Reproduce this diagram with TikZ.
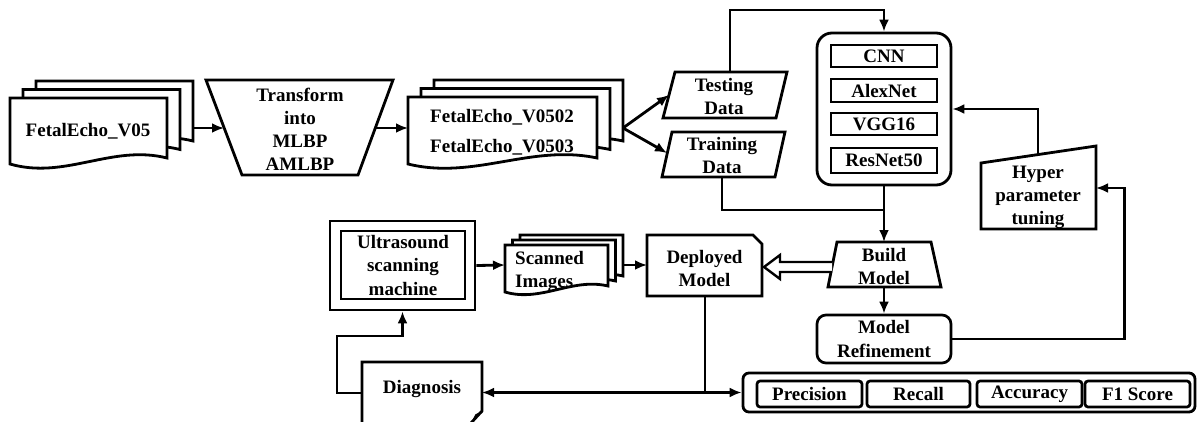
\documentclass[tikz,border=0pt]{standalone}
\usepackage{fontspec}
\setmainfont{Liberation Serif}
\usetikzlibrary{arrows.meta}

\newcommand\lbl{\fontsize{19}{23}\selectfont\bfseries}

\tikzset{
  outline/.style={line width=2.8pt, line join=miter, fill=white},
  box/.style={draw, line width=2.7pt, inner sep=0pt, align=center, font=\lbl, fill=white},
  txt/.style={font=\lbl, align=center, inner sep=0pt},
  link/.style={line width=2.8pt},
  arr/.style={line width=2.8pt, -{Latex[length=12pt,width=10pt]}},
  hollow/.style={line width=2.4pt, line join=miter, fill=white},
}

% a document sheet with a wavy lower edge: left, top, width, height
\newcommand\docsheet[4]{%
  \draw[outline] (#1,#2) -- ({#1+#3},#2) -- ({#1+#3},{#2+#4-4})
    .. controls ({#1+0.65*#3},{#2+0.72*#4}) and ({#1+0.35*#3},{#2+1.28*#4})
    .. (#1,{#2+#4+2}) -- cycle;}

\begin{document}
\begin{tikzpicture}[x=1pt,y=-1pt]
\useasboundingbox (0,0) rectangle (1197,421);
\clip (0,0) rectangle (1197,421);
\fill[white] (0,0) rectangle (1197,421);

% ---------- input data set ----------
\docsheet{36}{81}{157}{64}
\docsheet{23}{89.5}{157}{64}
\docsheet{10}{98}{157}{64}
\node[txt] (v05) at (88,131) {FetalEcho\_V05};
\coordinate (v05out) at (193,128);

% ---------- transformation ----------
\draw[outline] (206,80) -- (393,80) -- (358,175) -- (242,175) -- cycle;
\node[txt] (transform) at (300,129) {Transform\\into\\MLBP\\AMLBP};
\coordinate (trIn) at (224,128);
\coordinate (trOut) at (375,128);

% ---------- transformed data sets ----------
\docsheet{434}{80}{189}{65}
\docsheet{421}{88.5}{189}{65}
\docsheet{408}{97}{189}{65}
\node[txt, font=\fontsize{19}{30}\selectfont\bfseries] (v0502) at (502,132)
  {FetalEcho\_V0502\\FetalEcho\_V0503};
\coordinate (v0502in) at (408,128);
\coordinate (v0502out) at (623,128);

% ---------- split ----------
\draw[outline] (675,72) -- (787,72) -- (776,118) -- (663,118) -- cycle;
\node[txt] (testing) at (724,96.5) {Testing\\Data};
\draw[outline] (672,132) -- (785,132) -- (775,177) -- (662,177) -- cycle;
\node[txt] (training) at (722,155) {Training\\Data};
\coordinate (testIn) at (669,95);
\coordinate (trainIn) at (667,153);
\coordinate (testTop) at (730,72);
\coordinate (trainBot) at (722,177);

% ---------- models ----------
\node[draw, line width=2.8pt, rounded corners=15pt, minimum width=134pt,
      minimum height=152pt, inner sep=0pt] (models) at (884,109) {};
\node[box, minimum width=106pt, minimum height=22pt] (cnn) at (884,56) {CNN};
\node[box, minimum width=106pt, minimum height=23pt] (alex) at (884,90.5) {AlexNet};
\node[box, minimum width=106pt, minimum height=22pt] (vgg) at (884,124) {VGG16};
\node[box, minimum width=106pt, minimum height=25pt] (resnet) at (884,160.5) {ResNet50};

% ---------- hyper parameter tuning ----------
\draw[outline] (981,163) -- (1096,146) -- (1096,229) -- (981,229) -- cycle;
\node[txt] (hyper) at (1038,197) {Hyper\\parameter\\tuning};
\coordinate (hyperTop) at (1038,154.6);
\coordinate (hyperRight) at (1096,188);

% ---------- build / refine ----------
\draw[outline] (837,242) -- (931,242) -- (941,287) -- (828,287) -- cycle;
\node[txt] (build) at (884,266.5) {Build\\Model};
\coordinate (buildTop) at (884,242);
\coordinate (buildBot) at (884,287);
\coordinate (buildLeft) at (832,267);
\coordinate (join) at (884,210);

\node[box, rounded corners=9pt, minimum width=134pt, minimum height=48pt,
      font=\fontsize{19}{24}\selectfont\bfseries] (refine) at (884,339) {Model\\Refinement};

% ---------- deployment ----------
\draw[outline] (647,235) -- (753,235) -- (762,244) -- (762,296) -- (647,296) -- cycle;
\node[txt] (deployed) at (704.5,268) {Deployed\\Model};
\coordinate (depLeft) at (647,265);
\coordinate (depRight) at (764,267);
\coordinate (depBot) at (705,296);

\docsheet{520}{235}{103}{45}
\docsheet{512.5}{240}{103}{45}
\docsheet{505}{245}{103}{45}
\node[txt, anchor=west, align=left] (scanned) at (515,271) {Scanned\\Images};
\coordinate (scanIn) at (505,265);
\coordinate (scanOut) at (623,265);

\node[draw, line width=2.8pt, minimum width=145pt, minimum height=89pt,
      inner sep=0pt] (ultra) at (402.5,265.5) {};
\node[box, minimum width=124pt, minimum height=68pt,
      font=\fontsize{19}{23.5}\selectfont\bfseries] (ultraIn) at (403,265) {Ultrasound\\scanning\\machine};

% diagnosis sheet, its lower part runs off the page
\draw[outline] (362,430) -- (362,362) -- (482,362) -- (482,411) -- (471,423);
\draw[line width=1.8pt] (473,421) -- (476,415) -- (482,412);
\node[txt] (diagnosis) at (422,389) {Diagnosis};
\coordinate (diagL) at (362,393);
\coordinate (diagR) at (482,392.5);

% ---------- metrics ----------
\node[draw, line width=2.8pt, rounded corners=6pt, minimum width=452pt,
      minimum height=39pt, inner sep=0pt] (metrics) at (969,392.5) {};
\node[box, rounded corners=3pt, minimum width=105pt, minimum height=26pt] (precision) at (809.5,394) {Precision};
\node[box, rounded corners=3pt, minimum width=103pt, minimum height=26pt] (recall) at (918.5,394) {Recall};
\node[box, rounded corners=3pt, minimum width=105pt, minimum height=26pt] (accuracy) at (1029.5,394) {Accuracy};
\node[box, rounded corners=3pt, minimum width=105pt, minimum height=26pt] (f1) at (1137.5,394) {F1 Score};

% ---------- connectors ----------
\draw[arr] (v05out) -- (trIn);
\draw[arr] (trOut) -- (v0502in);
\draw[arr] (v0502out) -- (testIn);
\draw[arr] (v0502out) -- (trainIn);
\draw[arr] (testTop) -- ++(0,-62) -| (models.north);
\draw[link] (trainBot) |- (join);
\draw[arr] (models.south) -- (buildTop);
\draw[arr] (buildBot) -- (refine.north);
\draw[arr] (refine.east) -- ++(172,0) |- (hyperRight);
\draw[arr] (hyperTop) |- (models.east);
\draw[hollow] (buildLeft) ++(0,-5) -- ++(-52,0) -- ++(0,-7) -- (depRight)
  -- ++(16,12) -- ++(0,-7) -- ++(52,0);
\draw[arr] (ultra.east) -- (scanIn);
\draw[arr] (scanOut) -- (depLeft);
\draw[arr] (diagL) -- ++(-25,0) -- ++(0,-57) -| (ultra.south);
\draw[link] (depBot) -- ++(0,96.5) coordinate (tee);
\draw[arr] (tee) -- (diagR);
\draw[arr] (tee) -- (metrics.west);
\end{tikzpicture}
\end{document}
